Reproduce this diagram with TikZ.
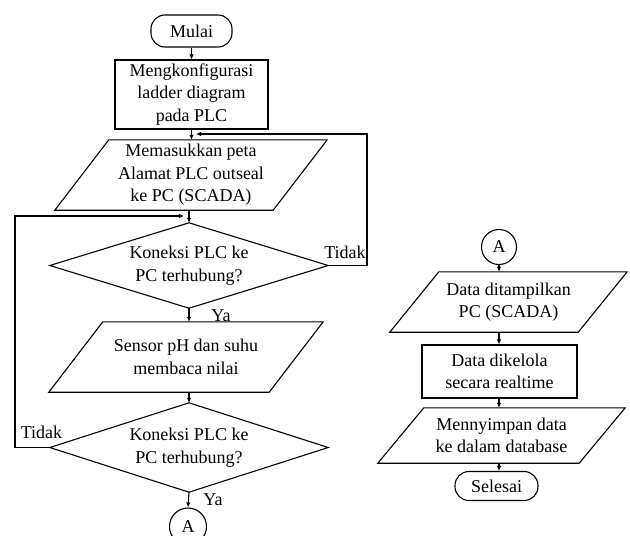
\documentclass[tikz,border=0pt]{standalone}
\usepackage{fontspec}
\setmainfont{Liberation Serif}
\usetikzlibrary{arrows.meta}
\newcommand\drawpara[2]{\draw[ln] ([xshift=#2]#1.north west) -- (#1.north east) -- ([xshift=-#2]#1.south east) -- (#1.south west) -- cycle;}
\newcommand\drawdiam[1]{\draw[ln] (#1.north) -- (#1.east) -- (#1.south) -- (#1.west) -- cycle;}
\begin{document}
\begin{tikzpicture}[x=1pt,y=-1pt,
  every node/.style={font=\fontsize{18}{22.5}\selectfont, inner sep=0pt, align=center},
  ln/.style={line width=1.1pt, line join=miter},
  arr/.style={ln, -{Latex[length=5pt,width=4.5pt]}},
  term/.style={draw, line width=1.1pt, rounded corners=14pt},
  procbox/.style={draw, line width=1.1pt},
  shapebox/.style={draw=none},
  conn/.style={draw, circle, line width=1.1pt, minimum size=35pt}]
\useasboundingbox (0,0) rectangle (630,536);

% left column
\node[term, minimum width=81pt, minimum height=32pt] (mulai) at (191.5,31) {Mulai};
\node[procbox, minimum width=153pt, minimum height=69pt] (box1) at (191.5,94.5) {Mengkonfigurasi\\ladder diagram\\pada PLC};
\node[shapebox, minimum width=272pt, minimum height=70pt] (p1) at (191,175) {Memasukkan peta\\Alamat PLC outseal\\ke PC (SCADA)};
\drawpara{p1}{54pt}
\node[shapebox, minimum width=278pt, minimum height=85pt] (d1) at (189,265.5) {Koneksi PLC ke\\PC terhubung?};
\drawdiam{d1}
\node[shapebox, minimum width=274pt, minimum height=70pt] (p2) at (186,357) {Sensor pH dan suhu\\membaca nilai};
\drawpara{p2}{54pt}
\node[shapebox, minimum width=278pt, minimum height=89pt] (d2) at (189,447.5) {Koneksi PLC ke\\PC terhubung?};
\drawdiam{d2}
\node[conn, minimum size=37pt] (a1) at (188,526.5) {A};

\coordinate (j1) at (196,134);
\coordinate (j2) at (184,216);

\draw[arr] (mulai.south) -- (box1.north);
\draw[arr] (box1.south) -- (box1.south |- p1.north);
\draw[arr] (p1.south -| d1.north) -- (d1.north);
\draw[arr] (d1.south) -- (d1.south |- p2.north);
\draw[arr] (p2.south -| d2.north) -- (d2.north);
\draw[arr] (d2.south) -- (a1.north);
\draw[arr] (d1.east) -- (367,265.5) -- (367,134) -- (j1);
\draw[arr] (d2.west) -- (15,447.5) -- (15,216) -- (j2);

\node (t1) at (345,252) {Tidak};
\node (t2) at (41.5,432) {Tidak};
\node (y1) at (221,316) {Ya};
\node (y2) at (213,500) {Ya};

% right column
\node[conn] (a2) at (499,247) {A};
\node[shapebox, minimum width=237pt, minimum height=60pt] (p3) at (508.5,302) {Data ditampilkan\\PC (SCADA)};
\drawpara{p3}{49pt}
\node[procbox, minimum width=155pt, minimum height=53pt] (box2) at (499.5,371.5) {Data dikelola\\secara realtime};
\node[shapebox, minimum width=247pt, minimum height=55pt] (p4) at (501.5,435.5) {Mennyimpan data\\ke dalam database};
\drawpara{p4}{46pt}
\node[term, minimum width=83pt, minimum height=29pt] (selesai) at (496.5,486) {Selesai};

\draw[arr] (a2.south) -- (a2.south |- p3.north);
\draw[arr] (a2.south |- p3.south) -- (a2.south |- box2.north);
\draw[arr] (a2.south |- box2.south) -- (a2.south |- p4.north);
\draw[arr] (a2.south |- p4.south) -- (a2.south |- selesai.north);
\end{tikzpicture}
\end{document}
